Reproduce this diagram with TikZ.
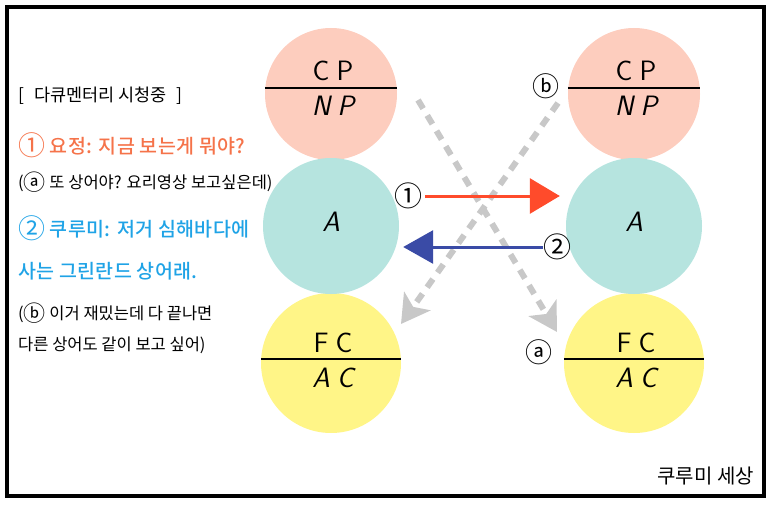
\documentclass[tikz,border=0pt]{standalone}
\usepackage{fontspec}
\newfontfamily\kr{Noto Sans CJK KR}
\newfontfamily\krmd{Noto Sans CJK KR Medium}[LetterSpace=2]
\usepackage{tikz}
\usetikzlibrary{arrows.meta}
\definecolor{cppink}{HTML}{FDCDBE}
\definecolor{ateal}{HTML}{B6E4DF}
\definecolor{fcyellow}{HTML}{FFF587}
\definecolor{yojung}{HTML}{F5734A}
\definecolor{kurumi}{HTML}{1FA3E6}
\definecolor{redarr}{HTML}{FF4B2B}
\definecolor{bluearr}{HTML}{3A4BA6}
\definecolor{dashgray}{HTML}{C8C8C8}
\newcommand{\circnum}[1]{\raisebox{-2pt}{\kr\fontsize{27}{27}\selectfont #1}}
\newcommand{\circlet}[1]{\raisebox{-1.5pt}{\kr\fontsize{22}{22}\selectfont #1}}
\tikzstyle{ball}=[circle, inner sep=0pt]
\tikzstyle{cpball}=[ball, fill=cppink, minimum size=132pt]
\tikzstyle{aball}=[ball, fill=ateal, minimum size=136pt]
\tikzstyle{fcball}=[ball, fill=fcyellow, minimum size=140pt]
\tikzstyle{divide}=[line width=2.5pt]
\tikzstyle{half}=[inner sep=0pt, font=\sffamily\fontsize{28}{28}\selectfont]
\tikzstyle{ihalf}=[half, font=\sffamily\itshape\fontsize{28}{28}\selectfont]
\tikzstyle{numtag}=[inner sep=0pt, font=\kr\fontsize{28}{28}\selectfont]
\tikzstyle{lettag}=[inner sep=0pt, font=\kr\fontsize{27}{27}\selectfont]
\tikzstyle{note}=[anchor=west, inner sep=0pt, font=\kr\fontsize{16.5}{16.5}\selectfont]
\tikzstyle{say}=[anchor=west, inner sep=0pt, font=\krmd\fontsize{19.5}{19.5}\selectfont]
\tikzstyle{redarrow}=[draw=redarr, line width=3pt, -{Triangle[length=30pt,width=35pt]}]
\tikzstyle{bluearrow}=[draw=bluearr, line width=3pt, -{Triangle[length=30pt,width=33pt]}]
\tikzstyle{ghost}=[draw=dashgray, line width=6pt, dash pattern=on 10pt off 8pt, -{Stealth[length=28pt,width=32pt,inset=7pt]}]

\begin{document}
\begin{tikzpicture}[x=1pt, y=-1pt]
        \useasboundingbox (0,0) rectangle (773,508);
        \draw[line width=4pt] (7,7) rectangle (764,496);
        \node[cpball]                   (CPl) at (331,94) {};
        \node[fcball]                   (FCl) at (331,363) {};
        \node[aball]                    (Al) at (331,226) {};
        \node[cpball]                   (CPr) at (634,94) {};
        \node[fcball]                   (FCr) at (634,363) {};
        \node[aball]                    (Ar) at (634,226) {};
        \draw[divide] ([yshift=6pt]CPl.west) -- ([yshift=6pt]CPl.east);
        \draw[divide] ([yshift=6pt]CPr.west) -- ([yshift=6pt]CPr.east);
        \draw[divide] ([yshift=4pt]FCl.west) -- ([yshift=4pt]FCl.east);
        \draw[divide] ([yshift=4pt]FCr.west) -- ([yshift=4pt]FCr.east);
        \node[half]                     (CPlt) at (333,71) {C\hspace{7pt}P};
        \node[ihalf]                    (CPlb) at (333,106) {N\hspace{7pt}P};
        \node[half]                     (CPrt) at (636,71) {C\hspace{7pt}P};
        \node[ihalf]                    (CPrb) at (636,106) {N\hspace{7pt}P};
        \node[ihalf]                    (Alt) at (331,222) {A};
        \node[ihalf]                    (Art) at (634,222) {A};
        \node[half]                     (FClt) at (333,343) {F\hspace{7pt}C};
        \node[ihalf]                    (FClb) at (333,378) {A\hspace{7pt}C};
        \node[half]                     (FCrt) at (636,343) {F\hspace{7pt}C};
        \node[ihalf]                    (FCrb) at (636,378) {A\hspace{7pt}C};
        \coordinate                     (g1s) at (418,100);
        \coordinate                     (g1e) at (557,332);
        \coordinate                     (g2s) at (558,103);
        \coordinate                     (g2e) at (401,324);
        \draw[ghost] (g1s) -- (g1e);
        \draw[ghost] (g2s) -- (g2e);
        \node[numtag]                   (n1) at (408,196) {①};
        \node[numtag]                   (n2) at (557,247) {②};
        \node[lettag]                   (ca) at (539,352) {ⓐ};
        \node[lettag]                   (cb) at (546,86) {ⓑ};
        \draw[redarrow, shorten <=3pt, shorten >=6pt] (n1) -- (n1 -| Ar.west);
        \draw[bluearrow, shorten >=4pt] (n2) -- (n2 -| Al.east);
        \node[note, font=\kr\fontsize{17.5}{17.5}\selectfont] (t1) at (18,96) {[\hspace{10pt}다큐멘터리 시청중\hspace{10pt}]};
        \node[say, text=yojung]         (t2) at (18,145) {\circnum{①} 요정: 지금 보는게 뭐야?};
        \node[note]                     (t3) at (18,182) {(\circlet{ⓐ} 또 상어야? 요리영상 보고싶은데)};
        \node[say, text=kurumi]         (t4) at (18,228) {\circnum{②} 쿠루미: 저거 심해바다에};
        \node[say, text=kurumi]         (t5) at (18,271) {사는 그린란드 상어래.};
        \node[note]                     (t6) at (18,313) {(\circlet{ⓑ} 이거 재밌는데 다 끝나면};
        \node[note]                     (t7) at (18,345) {다른 상어도 같이 보고 싶어)};
        \node[anchor=east, inner sep=0pt, font=\kr\fontsize{20}{20}\selectfont] (sig) at (754,476) {쿠루미 세상};
    \end{tikzpicture}
\end{document}
